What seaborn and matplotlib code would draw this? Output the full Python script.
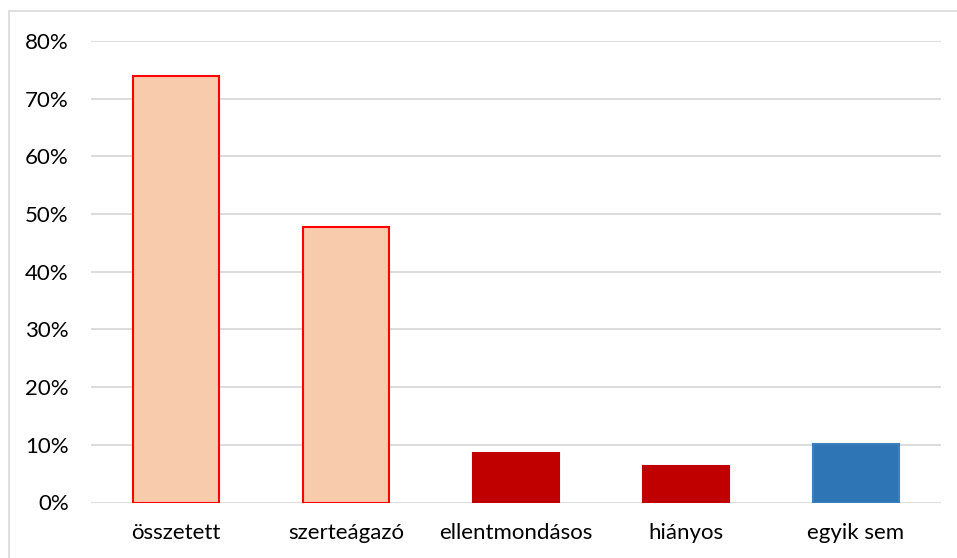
import numpy as np
import pandas as pd
import seaborn as sns
import matplotlib.pyplot as plt
from matplotlib.patches import Rectangle
from matplotlib.ticker import PercentFormatter

categories = ["összetett", "szerteágazó", "ellentmondásos", "hiányos", "egyik sem"]
shares = [73.9, 47.7, 8.5, 6.3, 10.1]

FILL = {"összetett": "#F8CBAD", "szerteágazó": "#F8CBAD",
        "ellentmondásos": "#C00000", "hiányos": "#C00000",
        "egyik sem": "#2E75B6"}
EDGE = {"összetett": "#FF0000", "szerteágazó": "#FF0000",
        "ellentmondásos": "#C00000", "hiányos": "#C00000",
        "egyik sem": "#3A80C0"}

W, H = 957, 558


def main():
    sns.set_theme(style="white")
    plt.rcParams.update({
        "font.family": ["Lato", "DejaVu Sans"],
    })

    fig = plt.figure(figsize=(W / 100, H / 100), dpi=100)
    ax = fig.add_axes([91 / W, 1 - 502.5 / H, 850 / W, 461.5 / H])

    df = pd.DataFrame({"cat": categories, "val": shares})
    sns.barplot(ax=ax, data=df, x="cat", y="val", hue="cat",
                palette=FILL, order=categories, width=0.506,
                legend=False, saturation=1)

    for patch, cat in zip(ax.patches, categories):
        patch.set_edgecolor(EDGE[cat])
        patch.set_linewidth(1.5)
        patch.set_zorder(3)

    ax.set_ylim(0, 80)
    ax.set_xlim(-0.5, len(categories) - 0.5)
    ax.set_yticks(np.arange(0, 81, 10))
    ax.yaxis.set_major_formatter(PercentFormatter(decimals=0))
    ax.yaxis.grid(True, color="#D9D9D9", linewidth=1.3)
    ax.set_axisbelow(True)
    for s in ax.spines.values():
        s.set_visible(False)
    ax.set_xlabel("")
    ax.set_ylabel("")
    ax.tick_params(axis="both", length=0, labelsize=16, colors="#000000")
    ax.tick_params(axis="x", pad=15)
    ax.tick_params(axis="y", pad=16)

    # outer chart frame
    fig.patches.append(Rectangle((9 / W, -0.1), 1.2, 1 - 11 / H + 0.1,
                                 transform=fig.transFigure, fill=False,
                                 edgecolor="#D9D9D9", linewidth=1.2))

    fig.savefig("out.png", dpi=100)


if __name__ == "__main__":
    main()
